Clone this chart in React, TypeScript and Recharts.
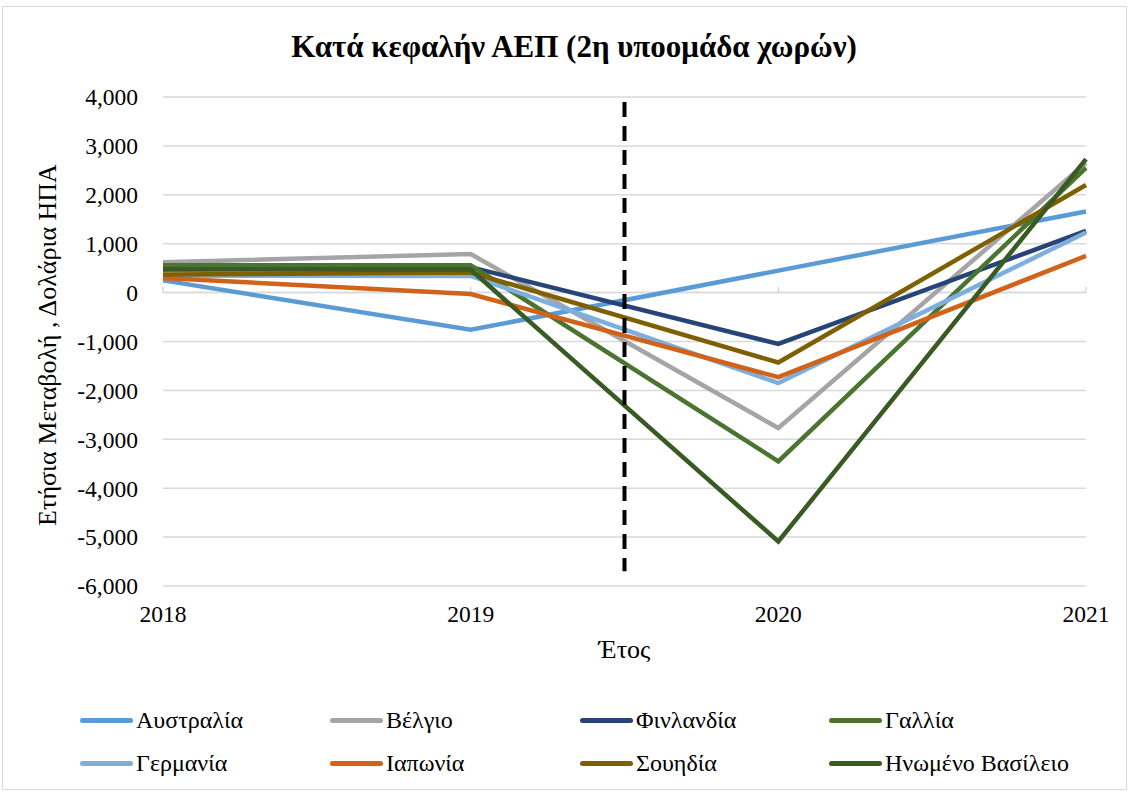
import React from "react";
import { LineChart, Line, XAxis, YAxis, CartesianGrid, ReferenceLine, Label } from "recharts";

const years = [2018, 2019, 2020, 2021];
const yTicks = [-6000, -5000, -4000, -3000, -2000, -1000, 0, 1000, 2000, 3000, 4000];

const seriesNames = ["Αυστραλία", "Βέλγιο", "Φινλανδία", "Γαλλία", "Γερμανία", "Ιαπωνία", "Σουηδία", "Ηνωμένο Βασίλειο"];
const seriesColors = ["#5B9BD5", "#A5A5A5", "#264478", "#4A7430", "#7CAFDD", "#D0621A", "#7F6000", "#3A5A24"];

const australia = [250, -760, 450, 1660];
const belgium = [620, 790, -2770, 2650];
const finland = [480, 520, -1050, 1260];
const france = [560, 560, -3450, 2550];
const germany = [350, 340, -1850, 1230];
const japan = [300, -30, -1730, 750];
const sweden = [370, 410, -1430, 2200];
const uk = [470, 470, -5090, 2730];

const seriesValues = [australia, belgium, finland, france, germany, japan, sweden, uk];

const data = years.map((y, i) => {
  const row: Record<string, number> = { year: y };
  seriesNames.forEach((n, k) => {
    row[n] = seriesValues[k][i];
  });
  return row;
});

const FONT = "'Liberation Serif', 'DejaVu Serif', serif";
const fmt = (v: number) => v.toLocaleString("en-US");

export default function App() {
  return (
    <div style={{ position: "absolute", left: 0, top: 0, width: 1130, height: 792, background: "#fff", fontFamily: FONT }}>
      <div style={{ position: "absolute", left: 2, top: 6, width: 1125, height: 784, border: "1px solid #d9d9d9", boxSizing: "border-box" }} />
      <div style={{ position: "absolute", left: 18, top: 29, width: 1112, textAlign: "center", fontSize: 31, fontWeight: "bold", color: "#000", lineHeight: "36px", whiteSpace: "nowrap" }}>
        Κατά κεφαλήν ΑΕΠ (2η υποομάδα χωρών)
      </div>
      <div style={{ position: "absolute", left: 0, top: 0 }}>
        <LineChart width={1130} height={792} data={data} margin={{ top: 97, right: 44, bottom: 136, left: 68 }}>
          <CartesianGrid vertical={false} stroke="#d9d9d9" strokeWidth={1.5} />
          <XAxis
            dataKey="year"
            type="number"
            domain={[2018, 2021]}
            ticks={years}
            axisLine={false}
            tickLine={false}
            tickMargin={13}
            height={70}
            tick={{ fill: "#000", fontSize: 23.5, fontFamily: FONT }}
          >
            <Label value="Έτος" position="insideBottom" offset={-2} style={{ fill: "#000", fontSize: 26, fontFamily: FONT }} />
          </XAxis>
          <YAxis
            type="number"
            domain={[-6000, 4000]}
            ticks={yTicks}
            tickFormatter={fmt}
            axisLine={false}
            tickLine={false}
            tickMargin={19}
            width={95}
            tick={{ fill: "#000", fontSize: 23.5, fontFamily: FONT }}
          >
            <Label
              content={() => (
                <text x={50} y={345} transform="rotate(-90 50 345)" textAnchor="middle" dominantBaseline="middle" style={{ fill: "#000", fontSize: 26, fontFamily: FONT }}>
                  Ετήσια Μεταβολή , Δολάρια ΗΠΑ
                </text>
              )}
            />
          </YAxis>
          <ReferenceLine y={0} stroke="#d9d9d9" strokeWidth={1.5} />
          {years.map((y) => (
            <ReferenceLine key={y} segment={[{ x: y, y: 0 }, { x: y, y: 120 }]} stroke="#d9d9d9" strokeWidth={1.5} />
          ))}
          {seriesNames.map((n, k) => (
            <Line
              key={n}
              dataKey={n}
              type="linear"
              stroke={seriesColors[k]}
              strokeWidth={4.5}
              dot={false}
              isAnimationActive={false}
            />
          ))}
          <ReferenceLine
            segment={[{ x: 2019.5, y: 3900 }, { x: 2019.5, y: -5700 }]}
            stroke="#000"
            strokeWidth={4}
            strokeDasharray="15 9"
          />
        </LineChart>
      </div>
      {seriesNames.map((n, k) => {
        const col = k % 4;
        const row = Math.floor(k / 4);
        const x0 = [80, 330, 580, 829][col];
        const yc = [720, 763][row];
        return (
          <div key={n} style={{ position: "absolute", left: x0, top: yc - 16, height: 32, display: "flex", alignItems: "center" }}>
            <div style={{ width: 53, height: 5, borderRadius: 2.5, background: seriesColors[k] }} />
            <span style={{ marginLeft: 3, fontSize: 24, lineHeight: "32px", color: "#000", whiteSpace: "nowrap" }}>{n}</span>
          </div>
        );
      })}
    </div>
  );
}
